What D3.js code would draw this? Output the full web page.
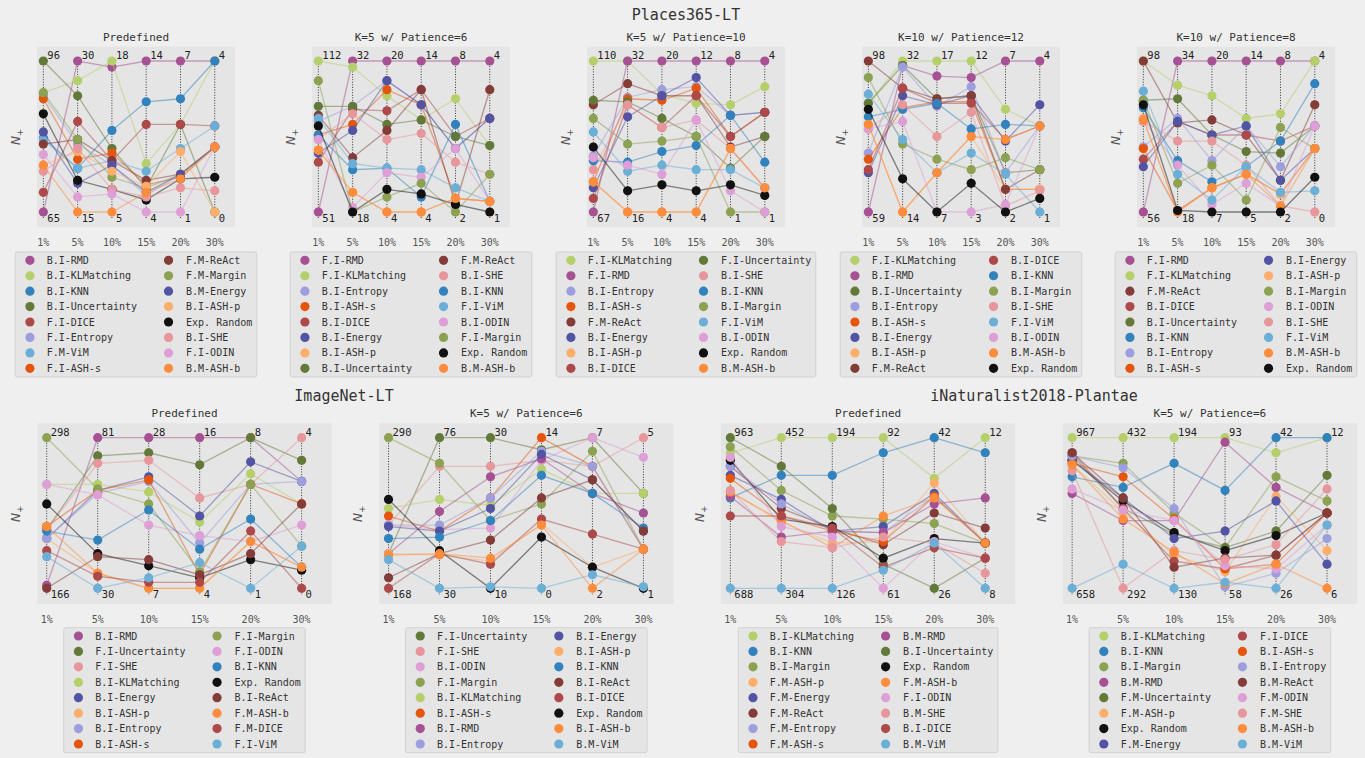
<!DOCTYPE html>
<html>
<head>
<meta charset="utf-8">
<script src="https://cdn.jsdelivr.net/npm/d3@7"></script>
<style>
  body { margin: 0; background: #efefef; }
  svg { display: block; font-family: "DejaVu Sans Mono", monospace; }
</style>
</head>
<body>
<div id="chart"></div>
<script>
const width = 1365;
const height = 758;

// x positions (label budget %) shared by every panel
const budgets = ["1%", "5%", "10%", "15%", "20%", "30%"];

// colour per OOD method (same across panels)
const methodColors = {
  "RMD": "#a55194", "KLMatching": "#b5cf6b", "KNN": "#3182bd", "Uncertainty": "#637939",
  "DICE": "#ad494a", "Entropy": "#9c9ede", "ViM": "#6baed6", "ASH-s": "#e6550d",
  "ReAct": "#843c39", "Margin": "#8ca252", "Energy": "#5254a3", "ASH-p": "#fdae6b",
  "SHE": "#e7969c", "ODIN": "#de9ed6", "ASH-b": "#fd8d3c", "Random": "#111111"
};

// values are the position of N+ inside each column's range, 0 = bottom label, 100 = top label

// ---- Places365-LT / Predefined
const placesPredefMethods = ["B.I-RMD", "B.I-KLMatching", "B.I-KNN", "B.I-Uncertainty", "F.I-DICE", "F.I-Entropy", "F.M-ViM", "F.I-ASH-s",
  "F.M-ReAct", "F.M-Margin", "B.M-Energy", "B.I-ASH-p", "Exp. Random", "B.I-SHE", "F.I-ODIN", "B.M-ASH-b"];
const placesPredefTop = [96, 30, 18, 14, 7, 4];
const placesPredefBottom = [65, 15, 5, 4, 1, 0];
const placesPredefValues = [
  [0, 100, 96, 100, 100, 100], [79, 87, 100, 32, 58, 100], [49, 29, 54, 73, 75, 100], [100, 77, 42, 16, 58, 0],
  [13, 60, 34, 58, 58, 57], [77, 45, 31, 11, 25, 43], [48, 29, 34, 27, 42, 57], [75, 35, 39, 18, 23, 43],
  [45, 48, 34, 21, 25, 43], [79, 48, 23, 16, 25, 43], [53, 19, 31, 13, 25, 43], [31, 40, 27, 17, 40, 0],
  [65, 21, 15, 8, 22, 23], [27, 42, 15, 10, 16, 14], [38, 10, 12, 0, 0, 43], [31, 0, 0, 13, 22, 43]
];

// ---- Places365-LT / K=5 w/ Patience=6
const placesK5P6Methods = ["F.I-RMD", "F.I-KLMatching", "B.I-Entropy", "B.I-ASH-s", "B.I-DICE", "B.I-Energy", "B.I-ASH-p", "B.I-Uncertainty",
  "F.M-ReAct", "B.I-SHE", "B.I-KNN", "F.I-ViM", "B.I-ODIN", "F.I-Margin", "Exp. Random", "B.M-ASH-b"];
const placesK5P6Top = [112, 32, 20, 14, 8, 4];
const placesK5P6Bottom = [51, 18, 4, 4, 2, 1];
const placesK5P6Values = [
  [0, 100, 100, 100, 100, 100], [100, 96, 77, 61, 75, 44], [60, 70, 87, 71, 42, 62], [51, 58, 81, 71, 9, 7],
  [33, 68, 67, 81, 50, 62], [39, 54, 87, 71, 42, 62], [41, 13, 0, 0, 9, 7], [70, 70, 58, 61, 50, 44],
  [64, 36, 54, 81, 5, 81], [48, 65, 48, 52, 33, 25], [51, 28, 29, 10, 58, 7], [62, 32, 29, 28, 16, 7],
  [48, 3, 26, 23, 42, 7], [87, 0, 10, 19, 0, 25], [57, 0, 15, 12, 5, 0], [41, 13, 0, 0, 9, 7]
];

// ---- Places365-LT / K=5 w/ Patience=10
const placesK5P10Methods = ["F.I-KLMatching", "F.I-RMD", "B.I-Entropy", "B.I-ASH-s", "F.M-ReAct", "B.I-Energy", "B.I-ASH-p", "B.I-DICE",
  "F.I-Uncertainty", "B.I-SHE", "B.I-KNN", "B.I-Margin", "F.I-ViM", "B.I-ODIN", "Exp. Random", "B.M-ASH-b"];
const placesK5P10Top = [110, 32, 20, 12, 8, 4];
const placesK5P10Bottom = [67, 16, 4, 4, 1, 1];
const placesK5P10Values = [
  [100, 100, 78, 72, 71, 83], [0, 100, 100, 100, 100, 100], [37, 76, 81, 83, 64, 66], [20, 75, 74, 82, 50, 66],
  [71, 85, 77, 77, 43, 50], [16, 63, 77, 89, 64, 66], [20, 0, 0, 0, 42, 16], [9, 71, 56, 77, 50, 66],
  [74, 73, 62, 50, 29, 50], [28, 71, 56, 61, 42, 16], [34, 33, 40, 44, 64, 33], [62, 45, 47, 50, 0, 0],
  [53, 27, 31, 28, 28, 16], [36, 31, 25, 61, 14, 0], [43, 14, 18, 14, 18, 11], [20, 0, 0, 0, 42, 16]
];

// ---- Places365-LT / K=10 w/ Patience=12
const placesK10P12Methods = ["F.I-KLMatching", "B.I-RMD", "B.I-Uncertainty", "B.I-Entropy", "B.I-ASH-s", "B.I-Energy", "B.I-ASH-p", "F.M-ReAct",
  "B.I-DICE", "B.I-KNN", "B.I-Margin", "B.I-SHE", "F.I-ViM", "B.I-ODIN", "B.M-ASH-b", "Exp. Random"];
const placesK10P12Top = [98, 32, 17, 12, 7, 4];
const placesK10P12Bottom = [59, 14, 7, 3, 2, 1];
const placesK10P12Values = [
  [72, 100, 100, 100, 68, 57], [0, 97, 90, 89, 100, 100], [72, 97, 75, 77, 26, 28], [39, 96, 70, 83, 26, 57],
  [35, 69, 73, 73, 15, 15], [26, 77, 71, 77, 47, 71], [58, 0, 26, 50, 15, 15], [100, 82, 75, 77, 15, 28],
  [28, 82, 72, 72, 48, 57], [63, 68, 72, 55, 58, 57], [89, 45, 35, 28, 36, 28], [55, 71, 50, 66, 4, 14],
  [78, 48, 26, 39, 25, 0], [55, 60, 0, 0, 5, 57], [58, 0, 26, 50, 48, 57], [68, 22, 0, 19, 0, 9]
];

// ---- Places365-LT / K=10 w/ Patience=8
const placesK10P8Methods = ["F.I-RMD", "F.I-KLMatching", "F.M-ReAct", "B.I-DICE", "B.I-Uncertainty", "B.I-KNN", "B.I-Entropy", "B.I-ASH-s",
  "B.I-Energy", "B.I-ASH-p", "B.I-Margin", "B.I-ODIN", "B.I-SHE", "F.I-ViM", "B.M-ASH-b", "Exp. Random"];
const placesK10P8Top = [98, 34, 20, 14, 8, 4];
const placesK10P8Bottom = [56, 18, 7, 5, 2, 0];
const placesK10P8Values = [
  [0, 100, 100, 100, 100, 100], [100, 84, 77, 62, 65, 100], [100, 59, 61, 51, 21, 71], [35, 60, 51, 51, 47, 57],
  [74, 75, 51, 40, 39, 57], [69, 34, 20, 30, 47, 85], [43, 62, 34, 57, 30, 57], [42, 1, 16, 25, 12, 42],
  [30, 60, 51, 57, 21, 42], [62, 0, 16, 25, 12, 42], [74, 19, 31, 8, 56, 42], [61, 31, 5, 19, 4, 57],
  [60, 47, 47, 31, 4, 0], [80, 25, 8, 30, 13, 14], [61, 0, 16, 25, 4, 42], [71, 1, 0, 0, 0, 23]
];

// ---- ImageNet-LT / Predefined
const imagenetPredefMethods = ["B.I-RMD", "F.I-Uncertainty", "F.I-SHE", "B.I-KLMatching", "B.I-Energy", "B.I-ASH-p", "B.I-Entropy", "B.I-ASH-s",
  "F.I-Margin", "F.I-ODIN", "B.I-KNN", "Exp. Random", "B.I-ReAct", "F.M-ASH-b", "F.M-DICE", "F.I-ViM"];
const imagenetPredefTop = [298, 81, 28, 16, 8, 4];
const imagenetPredefBottom = [166, 30, 7, 4, 1, 0];
const imagenetPredefValues = [
  [2, 100, 100, 100, 100, 71], [39, 88, 90, 82, 100, 85], [39, 83, 85, 60, 69, 100], [69, 69, 64, 44, 76, 56],
  [33, 65, 74, 48, 84, 71], [33, 10, 0, 0, 31, 14], [33, 63, 71, 30, 69, 71], [41, 65, 72, 9, 69, 56],
  [100, 66, 56, 11, 69, 28], [69, 62, 42, 35, 31, 42], [38, 32, 52, 26, 46, 14], [56, 23, 15, 7, 19, 12],
  [0, 21, 19, 9, 23, 56], [41, 10, 0, 0, 31, 14], [25, 8, 4, 4, 38, 0], [21, 0, 7, 17, 0, 28]
];

// ---- ImageNet-LT / K=5 w/ Patience=6
const imagenetK5P6Methods = ["F.I-Uncertainty", "F.I-SHE", "B.I-ODIN", "F.I-Margin", "B.I-KLMatching", "B.I-ASH-s", "B.I-RMD", "B.I-Entropy",
  "B.I-Energy", "B.I-ASH-p", "B.I-KNN", "B.I-ReAct", "B.I-DICE", "Exp. Random", "B.I-ASH-b", "B.M-ViM"];
const imagenetK5P6Top = [290, 76, 30, 14, 7, 5];
const imagenetK5P6Bottom = [168, 30, 10, 0, 2, 1];
const imagenetK5P6Values = [
  [23, 100, 100, 92, 100, 63], [42, 81, 81, 85, 81, 100], [42, 39, 40, 85, 100, 87], [100, 83, 45, 56, 91, 26],
  [53, 59, 55, 79, 63, 63], [48, 38, 60, 100, 81, 26], [23, 51, 74, 86, 63, 50], [42, 42, 60, 91, 81, 26],
  [41, 38, 53, 89, 72, 38], [23, 22, 18, 43, 14, 26], [33, 34, 45, 75, 63, 40], [7, 23, 32, 60, 72, 38],
  [0, 23, 16, 46, 36, 26], [59, 25, 0, 34, 14, 0], [22, 23, 20, 42, 0, 26], [19, 0, 1, 0, 9, 1]
];

// ---- iNaturalist2018-Plantae / Predefined
const inatPredefMethods = ["B.I-KLMatching", "B.I-KNN", "B.I-Margin", "F.M-ASH-p", "F.M-Energy", "F.M-ReAct", "F.M-Entropy", "F.M-ASH-s",
  "B.M-RMD", "B.I-Uncertainty", "Exp. Random", "F.M-ASH-b", "F.I-ODIN", "B.M-SHE", "B.I-DICE", "B.M-ViM"];
const inatPredefTop = [963, 452, 194, 92, 42, 12];
const inatPredefBottom = [688, 304, 126, 61, 26, 8];
const inatPredefValues = [
  [90, 100, 100, 100, 73, 100], [60, 75, 75, 90, 100, 90], [94, 65, 48, 46, 43, 30], [64, 44, 30, 31, 70, 30],
  [75, 59, 38, 41, 63, 30], [81, 53, 40, 29, 50, 40], [81, 56, 38, 37, 61, 30], [73, 48, 38, 31, 61, 30],
  [61, 34, 38, 37, 56, 60], [100, 81, 53, 16, 0, 20], [85, 46, 41, 20, 33, 30], [64, 45, 27, 48, 60, 30],
  [87, 41, 34, 0, 31, 20], [65, 31, 27, 34, 30, 10], [48, 48, 40, 14, 27, 20], [0, 0, 0, 12, 30, 0]
];

// ---- iNaturalist2018-Plantae / K=5 w/ Patience=6
const inatK5P6Methods = ["B.I-KLMatching", "B.I-KNN", "B.I-Margin", "B.M-RMD", "F.M-Uncertainty", "F.M-ASH-p", "Exp. Random", "F.M-Energy",
  "F.I-DICE", "B.I-ASH-s", "B.I-Entropy", "B.M-ReAct", "F.M-ODIN", "F.M-SHE", "B.M-ASH-b", "B.M-ViM"];
const inatK5P6Top = [967, 432, 194, 93, 42, 12];
const inatK5P6Bottom = [658, 292, 130, 58, 26, 6];
const inatK5P6Values = [
  [100, 100, 100, 100, 90, 100], [74, 67, 83, 65, 100, 100], [88, 83, 50, 27, 74, 58], [63, 45, 45, 97, 67, 50],
  [88, 53, 36, 27, 38, 75], [82, 51, 22, 11, 61, 25], [85, 58, 37, 25, 35, 50], [85, 60, 33, 38, 58, 16],
  [90, 53, 18, 13, 22, 50], [83, 74, 46, 13, 16, 50], [88, 80, 53, 1, 10, 33], [90, 60, 14, 20, 22, 50],
  [66, 52, 45, 15, 13, 42], [78, 0, 25, 19, 29, 66], [82, 46, 24, 3, 16, 0], [0, 16, 0, 4, 0, 42]
];

// panel geometry for the two rows
const rows = [
  { left: i => 37 + 275 * i, w: 198, top: 46.7, h: 180.3, yTop: 61, yBot: 212, legendTop: 252 },
  { left: i => 37.3 + 341.8 * i, w: 294.4, top: 423.3, h: 180.7, yTop: 437.7, yBot: 588.3, legendTop: 627.7 }
];

const panels = [
  { row: 0, col: 0, title: "Predefined", methods: placesPredefMethods, top: placesPredefTop, bottom: placesPredefBottom, values: placesPredefValues },
  { row: 0, col: 1, title: "K=5 w/ Patience=6", methods: placesK5P6Methods, top: placesK5P6Top, bottom: placesK5P6Bottom, values: placesK5P6Values },
  { row: 0, col: 2, title: "K=5 w/ Patience=10", methods: placesK5P10Methods, top: placesK5P10Top, bottom: placesK5P10Bottom, values: placesK5P10Values },
  { row: 0, col: 3, title: "K=10 w/ Patience=12", methods: placesK10P12Methods, top: placesK10P12Top, bottom: placesK10P12Bottom, values: placesK10P12Values },
  { row: 0, col: 4, title: "K=10 w/ Patience=8", methods: placesK10P8Methods, top: placesK10P8Top, bottom: placesK10P8Bottom, values: placesK10P8Values },
  { row: 1, col: 0, title: "Predefined", methods: imagenetPredefMethods, top: imagenetPredefTop, bottom: imagenetPredefBottom, values: imagenetPredefValues },
  { row: 1, col: 1, title: "K=5 w/ Patience=6", methods: imagenetK5P6Methods, top: imagenetK5P6Top, bottom: imagenetK5P6Bottom, values: imagenetK5P6Values },
  { row: 1, col: 2, title: "Predefined", methods: inatPredefMethods, top: inatPredefTop, bottom: inatPredefBottom, values: inatPredefValues },
  { row: 1, col: 3, title: "K=5 w/ Patience=6", methods: inatK5P6Methods, top: inatK5P6Top, bottom: inatK5P6Bottom, values: inatK5P6Values }
];

const datasetTitles = [
  { text: "Places365-LT", x: 686, y: 20 },
  { text: "ImageNet-LT", x: 344, y: 401 },
  { text: "iNaturalist2018-Plantae", x: 1034, y: 401 }
];

function colorOf(name) {
  if (name.startsWith("Exp.")) return methodColors["Random"];
  return methodColors[name.split("-").slice(1).join("-")];
}

const svg = d3.select("#chart")
  .append("svg")
  .attr("width", width)
  .attr("height", height)
  .attr("viewBox", [0, 0, width, height]);

svg.append("rect").attr("width", width).attr("height", height).attr("fill", "#efefef");

svg.selectAll("text.dataset")
  .data(datasetTitles)
  .join("text")
  .attr("class", "dataset")
  .attr("x", d => d.x)
  .attr("y", d => d.y)
  .attr("text-anchor", "middle")
  .attr("font-size", 15)
  .attr("fill", "#333")
  .text(d => d.text);

panels.forEach(drawPanel);

function drawPanel(p) {
  const r = rows[p.row];
  const left = r.left(p.col);
  const g = svg.append("g");

  const x = d3.scaleLinear().domain([-0.185, 5.59]).range([left, left + r.w]);
  const y = d3.scaleLinear().domain([0, 100]).range([r.yBot, r.yTop]);

  g.append("rect")
    .attr("x", left).attr("y", r.top)
    .attr("width", r.w).attr("height", r.h)
    .attr("fill", "#e5e5e5");

  g.append("text")
    .attr("x", left + r.w / 2)
    .attr("y", r.top - 6)
    .attr("text-anchor", "middle")
    .attr("font-size", 11)
    .attr("fill", "#333")
    .text(p.title);

  // y label N+
  const yl = g.append("text")
    .attr("transform", `translate(${left - 17},${r.top + r.h / 2}) rotate(-90)`)
    .attr("text-anchor", "middle")
    .attr("font-size", 12)
    .attr("fill", "#555")
    .attr("font-family", "DejaVu Sans");
  yl.append("tspan").attr("font-style", "italic").text("N");
  yl.append("tspan").attr("font-size", 9).attr("dy", 3).text("+");

  // x tick labels
  g.selectAll("text.tick")
    .data(budgets)
    .join("text")
    .attr("class", "tick")
    .attr("x", (d, i) => x(i))
    .attr("y", r.top + r.h + 19)
    .attr("text-anchor", "middle")
    .attr("font-size", 10)
    .attr("fill", "#555")
    .text(d => d);

  // dotted column guides
  g.selectAll("line.guide")
    .data(budgets)
    .join("line")
    .attr("class", "guide")
    .attr("x1", (d, i) => x(i)).attr("x2", (d, i) => x(i))
    .attr("y1", y(100)).attr("y2", y(0) + 6)
    .attr("stroke", "#222")
    .attr("stroke-width", 0.9)
    .attr("stroke-dasharray", "1,1.6");

  const line = d3.line().x((d, i) => x(i)).y(d => y(d));

  p.methods.forEach((m, k) => {
    const c = colorOf(m);
    g.append("path")
      .attr("d", line(p.values[k]))
      .attr("fill", "none")
      .attr("stroke", c)
      .attr("stroke-opacity", 0.5)
      .attr("stroke-width", 1.3);
    g.selectAll(null)
      .data(p.values[k])
      .join("circle")
      .attr("cx", (d, i) => x(i))
      .attr("cy", d => y(d))
      .attr("r", 4.6)
      .attr("fill", c);
  });

  // column max / min labels
  g.selectAll("text.top")
    .data(p.top)
    .join("text")
    .attr("class", "top")
    .attr("x", (d, i) => x(i) + 4)
    .attr("y", y(100) - 1.8)
    .attr("font-size", 10.5)
    .attr("fill", "#222")
    .text(d => d);
  g.selectAll("text.bottom")
    .data(p.bottom)
    .join("text")
    .attr("class", "bottom")
    .attr("x", (d, i) => x(i) + 4)
    .attr("y", y(0) + 10)
    .attr("font-size", 10.5)
    .attr("fill", "#222")
    .text(d => d);

  drawLegend(g, p, left + r.w / 2, r.legendTop);
}

function drawLegend(g, p, cx, top) {
  const half = 8;
  const col1 = p.methods.slice(0, half);
  const col2 = p.methods.slice(half);
  const lg = g.append("g");
  const box = lg.append("rect")
    .attr("fill", "#e5e5e5")
    .attr("stroke", "#cccccc")
    .attr("stroke-width", 0.8)
    .attr("rx", 2);

  const measure = names => {
    const t = lg.selectAll(null).data(names).join("text")
      .attr("font-size", 10).text(d => d);
    const w = d3.max(t.nodes(), n => n.getComputedTextLength());
    t.remove();
    return w;
  };
  const w1 = measure(col1);
  const w2 = measure(col2);
  const bw = 31.5 + w1 + 31.5 + 17.5 + w2 + 4.5;
  const bx = cx - bw / 2;
  const rowH = 15.43;
  box.attr("x", bx).attr("y", top).attr("width", bw).attr("height", 125);

  const cols = [
    { names: col1, mx: bx + 14.7, tx: bx + 31.5 },
    { names: col2, mx: bx + 31.5 + w1 + 31.5, tx: bx + 31.5 + w1 + 31.5 + 17.5 }
  ];
  cols.forEach(c => {
    const items = lg.selectAll(null).data(c.names).join("g")
      .attr("transform", (d, i) => `translate(0,${top + 8.3 + i * rowH})`);
    items.append("circle")
      .attr("cx", c.mx).attr("cy", 0).attr("r", 4.6)
      .attr("fill", d => colorOf(d));
    items.append("text")
      .attr("x", c.tx).attr("y", 3.6)
      .attr("font-size", 10)
      .attr("fill", "#333")
      .text(d => d);
  });
}
</script>
</body>
</html>
